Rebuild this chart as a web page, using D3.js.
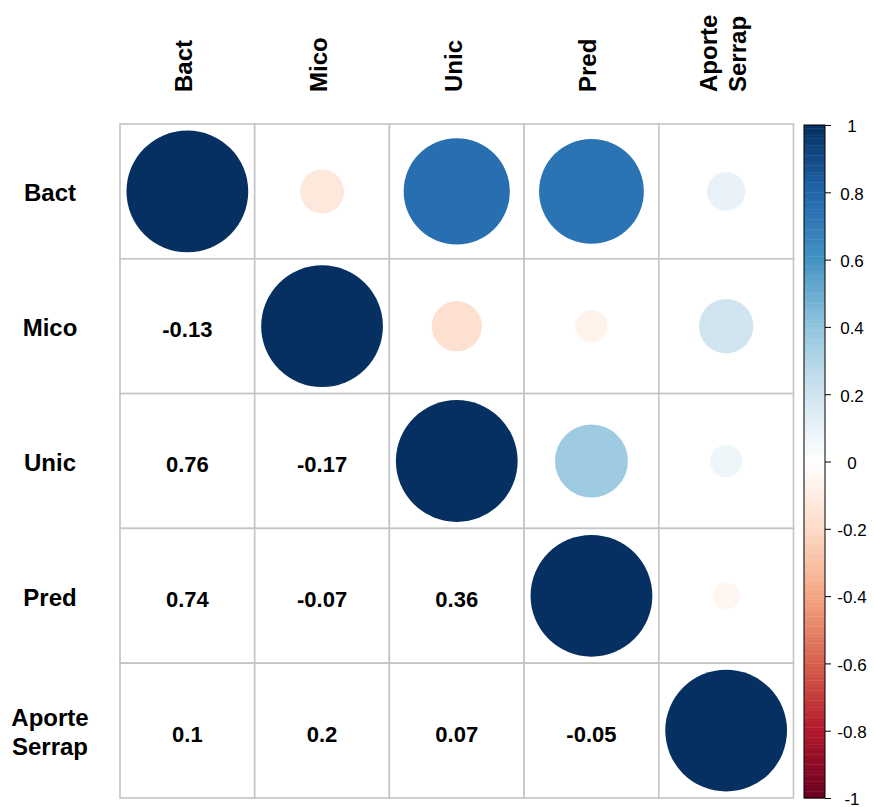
<!DOCTYPE html>
<html>
<head>
<meta charset="utf-8">
<script src="https://cdn.jsdelivr.net/npm/d3@7"></script>
<style>
  html, body { margin: 0; padding: 0; background: #ffffff; }
  svg { display: block; }
  text { font-family: "Liberation Sans", Arial, Helvetica, sans-serif; }
</style>
</head>
<body>
<svg id="chart" width="874" height="807"></svg>
<script>
// Variable names (rows and columns share the same order)
const variables = ["Bact", "Mico", "Unic", "Pred", "Aporte Serrap"];

// Correlation matrix, one row per variable
const rowBact   = [1,     -0.13,  0.76,  0.74,  0.10];
const rowMico   = [-0.13,  1,    -0.17, -0.07,  0.20];
const rowUnic   = [0.76,  -0.17,  1,     0.36,  0.07];
const rowPred   = [0.74,  -0.07,  0.36,  1,    -0.05];
const rowAporte = [0.10,   0.20,  0.07, -0.05,  1];
const corr = [rowBact, rowMico, rowUnic, rowPred, rowAporte];

// Colour-legend tick values
const legendTicks = [-1, -0.8, -0.6, -0.4, -0.2, 0, 0.2, 0.4, 0.6, 0.8, 1];

// Diverging red-blue palette
const paletteStops = ["#67001F", "#B2182B", "#D6604D", "#F4A582", "#FDDBC7", "#FFFFFF",
                      "#D1E5F0", "#92C5DE", "#4393C3", "#2166AC", "#053061"];

const svg = d3.select("#chart");

const grid = { left: 120, right: 793.5, top: 124, bottom: 798 };

const x = d3.scaleBand().domain(d3.range(variables.length)).range([grid.left, grid.right]).padding(0);
const y = d3.scaleBand().domain(d3.range(variables.length)).range([grid.top, grid.bottom]).padding(0);

const color = d3.scaleLinear()
  .domain(d3.range(paletteStops.length).map(i => -1 + 2 * i / (paletteStops.length - 1)))
  .range(paletteStops)
  .interpolate(d3.interpolateRgb);

// Circle area proportional to |r|
const radius = d3.scaleSqrt().domain([0, 1]).range([0, x.bandwidth() * 0.452]);

const cells = [];
corr.forEach((row, i) => row.forEach((v, j) => cells.push({ i, j, v })));

// Background grid
svg.append("g").selectAll("rect")
  .data(cells)
  .join("rect")
  .attr("x", d => x(d.j))
  .attr("y", d => y(d.i))
  .attr("width", x.bandwidth())
  .attr("height", y.bandwidth())
  .attr("fill", "#ffffff")
  .attr("stroke", "#c4c4c4")
  .attr("stroke-width", 1.6);

// Circles on the diagonal and upper triangle
svg.append("g").selectAll("circle")
  .data(cells.filter(d => d.j >= d.i))
  .join("circle")
  .attr("cx", d => x(d.j) + x.bandwidth() / 2)
  .attr("cy", d => y(d.i) + y.bandwidth() / 2)
  .attr("r", d => radius(Math.abs(d.v)))
  .attr("fill", d => color(d.v));

// Coefficients in the lower triangle
svg.append("g").selectAll("text")
  .data(cells.filter(d => d.j < d.i))
  .join("text")
  .attr("x", d => x(d.j) + x.bandwidth() / 2)
  .attr("y", d => y(d.i) + y.bandwidth() / 2 + 11)
  .attr("text-anchor", "middle")
  .attr("font-size", 22)
  .attr("font-weight", "bold")
  .attr("fill", "#000000")
  .text(d => String(d.v));

const lineH = 29;
const labelSize = 24;

// Row labels (multi-word names wrap onto separate lines)
const rowLabels = svg.append("g").selectAll("text")
  .data(variables)
  .join("text")
  .attr("text-anchor", "middle")
  .attr("font-size", labelSize)
  .attr("font-weight", "bold")
  .attr("fill", "#000000");
rowLabels.each(function (name, i) {
  const parts = name.split(" ");
  const cy = y(i) + y.bandwidth() / 2;
  const first = cy + 10 - (parts.length - 1) * lineH / 2;
  d3.select(this).selectAll("tspan")
    .data(parts)
    .join("tspan")
    .attr("x", 50)
    .attr("y", (p, k) => first + k * lineH)
    .text(p => p);
});

// Column labels, rotated, one text element per line
const colLines = [];
variables.forEach((name, j) => {
  const parts = name.split(" ");
  parts.forEach((p, k) => colLines.push({ j, k, n: parts.length, p }));
});
svg.append("g").selectAll("text")
  .data(colLines)
  .join("text")
  .attr("transform", d => {
    const cx = x(d.j) + x.bandwidth() / 2;
    const bx = cx + 5 - (d.n - 1) * lineH / 2 + d.k * lineH;
    return `translate(${bx},92) rotate(-90)`;
  })
  .attr("text-anchor", "start")
  .attr("font-size", labelSize)
  .attr("font-weight", "bold")
  .attr("fill", "#000000")
  .text(d => d.p);

// Colour legend
const legend = { x: 804, width: 21 };
const ly = d3.scaleLinear().domain([1, -1]).range([grid.top + 1, grid.bottom]);
const nBands = 200;
const bandVals = d3.range(nBands).map(k => -1 + 2 * (k + 0.5) / nBands);
const bandH = (ly(-1) - ly(1)) / nBands;

const lg = svg.append("g");
lg.selectAll("rect.band")
  .data(bandVals)
  .join("rect")
  .attr("class", "band")
  .attr("x", legend.x)
  .attr("y", v => ly(v) - bandH / 2)
  .attr("width", legend.width)
  .attr("height", bandH + 0.4)
  .attr("fill", v => color(v));

lg.append("rect")
  .attr("x", legend.x)
  .attr("y", ly(1))
  .attr("width", legend.width)
  .attr("height", ly(-1) - ly(1))
  .attr("fill", "none")
  .attr("stroke", "#000000")
  .attr("stroke-width", 1);

const axis = d3.axisRight(ly)
  .tickValues(legendTicks)
  .tickSize(6)
  .tickPadding(0)
  .tickFormat(d => String(+d.toFixed(1)));

const ax = lg.append("g")
  .attr("transform", `translate(${legend.x + legend.width},0)`)
  .call(axis);
ax.select(".domain").remove();
ax.selectAll(".tick line").attr("stroke", "#000000").attr("stroke-width", 1);
ax.selectAll(".tick text")
  .attr("x", 27)
  .attr("dy", "0.4em")
  .attr("text-anchor", "middle")
  .attr("font-size", 17)
  .attr("font-family", "'Liberation Sans', Arial, sans-serif")
  .attr("fill", "#000000");
</script>
</body>
</html>
